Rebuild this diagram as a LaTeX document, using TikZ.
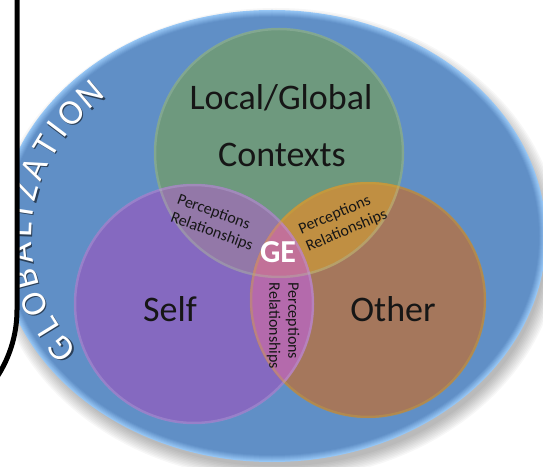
\documentclass[tikz,border=0pt]{standalone}
\usepackage{fontspec}
\usepackage{graphicx}
\setmainfont{Carlito}
\usetikzlibrary{calc}
\definecolor{bluefill}{RGB}{96,143,198}
\definecolor{bluerim}{RGB}{150,198,245}
\definecolor{greenfill}{RGB}{110,153,126}
\definecolor{purplefill}{RGB}{133,105,192}
\definecolor{orangefill}{RGB}{165,119,92}
\definecolor{pgfill}{RGB}{147,120,168}
\definecolor{gofill}{RGB}{192,143,66}
\definecolor{pofill}{RGB}{180,106,172}
\definecolor{centerfill}{RGB}{194,113,152}
\definecolor{inkcol}{RGB}{22,22,22}
\tikzset{
  bigtxt/.style={font=\fontsize{36}{43}\selectfont, text=inkcol, inner sep=0pt},
  getxt/.style={font=\bfseries\fontsize{32}{38}\selectfont, text=white, inner sep=0pt},
  smalltxt/.style={font=\fontsize{16}{19}\selectfont, text=inkcol, align=left, inner sep=0pt},
  glotxt/.style={font=\fontsize{31}{36}\selectfont, inner sep=0pt},
  rimline/.style={line width=2.5pt, opacity=0.35},
}
\begin{document}
\begin{tikzpicture}[x=1pt,y=1pt]
\useasboundingbox (0,0) rectangle (543,466);
\clip (0,0) rectangle (543,466);
\coordinate (E) at (272,230);
\coordinate (G) at (279,313);
\coordinate (S) at (194,162);
\coordinate (O) at (368,166);
% shadow of the big ellipse
\foreach \i in {0,...,9}{
  \fill[black, opacity=0.03] (276,222) ellipse[x radius={284-\i*1.5}, y radius={236-\i*1.5}];
}
% big blue ellipse with light rim
\foreach \k in {0,...,6}{
  \pgfmathsetmacro\p{100-\k*15}
  \fill[bluerim!\p!bluefill] (E) ellipse[x radius={274-\k}, y radius={226-\k}];
}
\fill[bluefill] (E) ellipse[x radius=267, y radius=219];
% GLOBALIZATION along the rim
\foreach \ch/\ang [count=\i] in {G/213.5, L/206.5, O/199.5, B/192.2, A/185, L/178.3, I/173, Z/167.5, A/160.6, T/153.8, I/148.5, O/142.8, N/136.2}{
  \pgfmathsetmacro\rot{atan2(-204*cos(\ang), 252*sin(\ang))}
  \node[glotxt, text=bluefill!45!black, rotate=\rot] (gs\i) at ($(E)+(\ang:252 and 204)+(1.3,-1.3)$) {\scalebox{1.15}{\ch}};
  \node[glotxt, text=white, rotate=\rot] (gl\i) at ($(E)+(\ang:252 and 204)$) {\scalebox{1.15}{\ch}};
}
% circles
\fill[greenfill] (G) circle[radius=125];
\fill[purplefill] (S) circle[radius=120];
\fill[orangefill] (O) circle[radius=118];
\begin{scope}
  \clip (G) circle[radius=125];
  \fill[pgfill] (S) circle[radius=120];
  \fill[gofill] (O) circle[radius=118];
\end{scope}
\begin{scope}
  \clip (S) circle[radius=120];
  \fill[pofill] (O) circle[radius=118];
  \clip (G) circle[radius=125];
  \fill[centerfill] (O) circle[radius=118];
\end{scope}
% soft rims
\draw[rimline, greenfill!60!white] (G) circle[radius=124];
\draw[rimline, purplefill!55!white] (S) circle[radius=119];
\draw[rimline, orangefill!60!yellow] (O) circle[radius=117];
% labels
\node[bigtxt, anchor=base] (lg) at (281,356) {Local/Global};
\node[bigtxt, anchor=base] (ct) at (282,299) {Contexts};
\node[bigtxt, anchor=base] (self) at (170,144) {Self};
\node[bigtxt, anchor=base] (other) at (393,144) {Other};
\node[getxt, anchor=base] (ge) at (278,203) {GE};
\node[smalltxt, rotate=-20] (pl) at (215,243) {Perceptions\\Relationships};
\node[smalltxt, rotate=23] (pr) at (343,244) {Perceptions\\Relationships};
\node[smalltxt, rotate=-90] (pb) at (283,140) {Perceptions\\Relationships};
% white panel with black border on the left
\fill[white] (-10,476) -- (17,476) -- (17,156) arc[start angle=0, end angle=-36, radius=122] -- (-10,80) -- cycle;
\draw[line width=5pt, black] (17,476) -- (17,156) arc[start angle=0, end angle=-36, radius=122];
\end{tikzpicture}
\end{document}
